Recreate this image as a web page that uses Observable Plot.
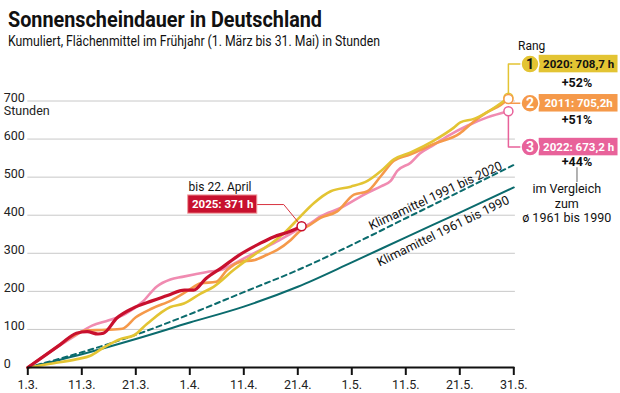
<!DOCTYPE html>
<html><head><meta charset="utf-8">
<script src="https://cdn.jsdelivr.net/npm/d3@7"></script>
<script src="https://cdn.jsdelivr.net/npm/@observablehq/plot@0.6"></script>
<style>
body{margin:0;background:#fff;font-family:Roboto,"Liberation Sans",sans-serif;color:#111}
#hdr{position:relative;width:620px;height:56px}
#hdr div{position:absolute;white-space:nowrap;line-height:1;transform-origin:0 50%}
</style></head><body>
<div id="hdr">
<div id="title" style="left:8px;top:8px;font-size:22.5px;font-weight:bold">Sonnenscheindauer in Deutschland</div>
<div id="sub" style="left:8px;top:35px;font-size:14.5px">Kumuliert, Flächenmittel im Frühjahr (1. März bis 31. Mai) in Stunden</div>
<div style="left:518px;top:40px;font-size:12px">Rang</div>
</div>
<div id="chart"></div>
<script>
const tickPos = [0,10,20,30,40,50,60,70,80,90];
const tickLabels = ["1.3.","11.3.","21.3.","1.4.","11.4.","21.4.","1.5.","11.5.","21.5.","31.5."];
const yTicks = [0,100,200,300,400,500,600,700];

const d2025 = [0,3,6,9,11,13,14,16.5,19.5,23,26,29,30.7,33,36,39,43,45.5,48.5,50.7];
const v2025 = [0,30,60,90,94,88,90,130,156,175,190,203,203,234,263,294,326,343,357,371];

const d2022 = [0,4,8.8,11.9,15,18.1,21.2,23.9,26.4,28.6,31,33.2,35.7,39.4,43.1,45.6,48.5,50.5,52,54.2,57.9,62.9,65.4,67.2,68.4,70.9,72.6,75.2,78,81.4,85.1,89];
const v2022 = [0,40,84,110,124,141,172,213,231,238,245,251,256,282,309,327,350,366,376,397,419,459,476,490,516,538,562,585,610,635,657,673.2];

const d2011 = [0,4,8.8,10.7,14.4,17.5,20,23,26.7,29.8,32,34.9,36.9,39.4,41.9,44.3,46.2,48.7,50.5,52.3,54.2,57.3,60.4,62.9,65.4,67.8,70.9,75.2,80,82.5,85,87.6,89];
const v2011 = [0,40,86,97,99,102,132,155,177,203,221,225,256,278,282,296,309,335,360,375,393,410,454,463,503,543,560,587,615,645,670,690,705.2];

const d2020 = [0,4.8,9.1,11.6,14.1,17.2,19.6,22.1,26.4,28.9,32,34.4,38.1,41.9,44.3,47.4,50.5,53,56.1,59.8,62.9,65.4,67.8,70.9,75.2,78.9,80.1,82.6,85.1,89];
const v2020 = [0,11,22,31,53,75,84,115,159,168,194,212,256,296,318,352,397,432,463,475,490,516,547,565,596,630,644,653,671,708.7];

const dClim = [0,10,20,30,40,50,60,70,80,90];
const vClim6190 = [0,35,75,118,160,212,276,342,407,473];
const vClim9120 = [0,40,86,140,198,256,322,392,462,532];

const C = {y2020:"#e3c433", y2011:"#f5994a", y2022line:"#f08bb1", y2022box:"#e8629a", y2025:"#c8102e", teal:"#0b6b6d"};

const zip = (ds, vs) => ds.map((d,i)=>({d, v: vs[i]}));
const s2025 = zip(d2025, v2025), s2022 = zip(d2022, v2022), s2011 = zip(d2011, v2011), s2020 = zip(d2020, v2020);
const c6190 = zip(dClim, vClim6190), c9120 = zip(dClim, vClim9120);
const ticks = tickPos.map((p,i)=>({p, label: tickLabels[i]}));

const font = 'Roboto,"Liberation Sans",sans-serif';

const ranks = [
  {n:"1", label:"2020: 708,7 h", pct:"+52%", end:708.7, cy:797, pcty:748, fill:C.y2020, tc:"#111"},
  {n:"2", label:"2011: 705,2h", pct:"+51%", end:705.2, cy:694, pcty:649, fill:C.y2011, tc:"#fff"},
  {n:"3", label:"2022: 673,2 h", pct:"+44%", end:673.2, cy:579, pcty:539, fill:C.y2022box, tc:"#fff"}
];
const connectors = [
  [{d:89,v:708.7},{d:89,v:797},{d:93,v:797}],
  [{d:89,v:694},{d:93,v:694}],
  [{d:89,v:673.2},{d:89,v:579},{d:93,v:579}]
];
const connColors = [C.y2020, C.y2011, C.y2022box];

const lineOpts = {x:"d", y:"v", curve:"monotone-x", strokeWidth:2.6, strokeLinejoin:"round", strokeLinecap:"round"};

const chart = Plot.plot({
  width: 620, height: 337,
  marginLeft: 27.3, marginRight: 106.7, marginTop: 44.5, marginBottom: 26,
  x: {domain:[0,90], axis:null},
  y: {domain:[0,700], axis:null},
  style: {fontFamily: font, fontSize:"12px", overflow:"visible", background:"#fff", color:"#111"},
  marks: [
    Plot.ruleY(yTicks.filter(v=>v>0), {x1:0, x2:90.3, stroke:"#c8c8c8", strokeWidth:1}),
    Plot.text(yTicks, {y:d=>d, text:d=>String(d), frameAnchor:"left", dx:-24, dy:-3.5, textAnchor:"start", fontSize:12.5, fill:"#222"}),
    Plot.text([700], {y:d=>d, text:()=>"Stunden", frameAnchor:"left", dx:-24, dy:10, textAnchor:"start", fontSize:12.5, fill:"#222"}),
    // climate means
    Plot.line(c6190, {x:"d", y:"v", curve:"monotone-x", stroke:C.teal, strokeWidth:2}),
    Plot.line(c9120, {x:"d", y:"v", curve:"monotone-x", stroke:C.teal, strokeWidth:2, strokeDasharray:"5,4"}),
    Plot.text(["Klimamittel 1991 bis 2020"], {x:75.5, y:451, text:d=>d, rotate:-25, fontSize:12.5, fill:"#111"}),
    Plot.text(["Klimamittel 1961 bis 1990"], {x:76.9, y:358, text:d=>d, rotate:-26, fontSize:12.5, fill:"#111"}),
    // years
    Plot.line(s2022, {...lineOpts, stroke:C.y2022line}),
    Plot.line(s2011, {...lineOpts, stroke:C.y2011}),
    Plot.line(s2020, {...lineOpts, stroke:C.y2020}),
    Plot.line(s2025, {...lineOpts, stroke:C.y2025, strokeWidth:3.2}),
    // x axis
    Plot.ruleY([0], {x1:0, x2:90.2, stroke:"#111", strokeWidth:2}),
    Plot.ruleX(ticks, {x:"p", y1:0, y2:-21, stroke:"#111", strokeWidth:2}),
    Plot.text(ticks, {x:"p", y:0, text:"label", dy:17, fontSize:12.5, fill:"#222"}),
    // 2025 annotation
    Plot.line([{d:42.5,v:428},{d:47.4,v:428},{d:50.7,v:371}], {x:"d", y:"v", stroke:"#d8333f", strokeWidth:1}),
    Plot.rect([0], {x1:29.7, x2:42.5, y1:404, y2:452, fill:C.y2025, stroke:"#f0a0a0", strokeWidth:1}),
    Plot.text(["2025: 371 h"], {x:36.1, y:428, text:d=>d, fill:"#fff", fontWeight:"bold", fontSize:11.5}),
    Plot.text(["bis 22. April"], {x:35.6, y:474, text:d=>d, fill:"#111", fontSize:12}),
    Plot.dot([{d:50.7,v:371}], {x:"d", y:"v", r:4.5, fill:"#fff", stroke:C.y2025, strokeWidth:1.5}),
    // right annotations
    ...connectors.map((c,i)=>Plot.line(c, {x:"d", y:"v", stroke:connColors[i], strokeWidth:1.5})),
    Plot.dot(ranks, {x:89, y:"end", r:4.5, fill:"#fff", stroke:"fill", strokeWidth:1.5}),
    Plot.rect(ranks, {x1:94.7, x2:109.3, y1:d=>d.cy-23, y2:d=>d.cy+23, fill:"fill"}),
    Plot.dot(ranks, {x:93, y:"cy", r:9, fill:"fill", stroke:"#fff", strokeWidth:1.5}),
    Plot.text(ranks, {x:93, y:"cy", text:"n", fill:"tc", fontWeight:"bold", fontSize:14}),
    Plot.text(ranks, {x:102, y:"cy", text:"label", fill:"tc", fontWeight:"bold", fontSize:11.5}),
    Plot.text(ranks, {x:101.7, y:"pcty", text:"pct", fill:"#111", fontWeight:"bold", fontSize:12.5}),
    Plot.ruleX([101.7], {y1:486, y2:525, stroke:"#999", strokeWidth:1.5}),
    Plot.text(["im Vergleich","zum","ø 1961 bis 1990"], {x:99.8, y:(d,i)=>[469,430,393][i], text:d=>d, fill:"#111", fontSize:12.5})
  ]
});
document.getElementById("chart").appendChild(chart);

function fit(id, target){
  const el = document.getElementById(id);
  el.style.transform = "none";
  const w = el.getBoundingClientRect().width;
  if (w > 0) el.style.transform = `scaleX(${target / w})`;
}
function fitAll(){ fit("title", 314); fit("sub", 372); }
fitAll();
if (document.fonts && document.fonts.ready) document.fonts.ready.then(fitAll);
</script>
</body></html>
